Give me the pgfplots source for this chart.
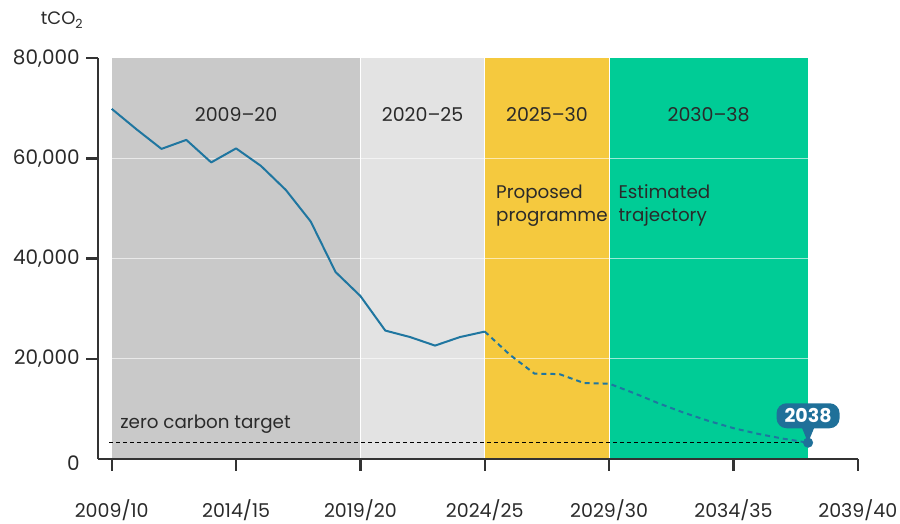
\documentclass[border=0pt]{standalone}
\usepackage{pgfplots}
\pgfplotsset{compat=1.18}
\usepackage{fontspec}
\setmainfont{Poppins}
\definecolor{reggray}{HTML}{C9C9C9}
\definecolor{reglight}{HTML}{E3E3E3}
\definecolor{regyellow}{HTML}{F5C93E}
\definecolor{reggreen}{HTML}{00CC96}
\definecolor{linec}{HTML}{1F76A0}
\definecolor{calloutc}{HTML}{1F7099}
\definecolor{axisc}{HTML}{333333}
\definecolor{labelc}{HTML}{2A2A2A}
\pgfplotstableread{
year value
2009 69900
2010 65800
2011 61900
2012 63700
2013 59200
2014 62000
2015 58500
2016 53700
2017 47400
2018 37300
2019 32500
2020 25600
2021 24300
2022 22600
2023 24300
2024 25400
}\actual
\pgfplotstableread{
year value
2024 25400
2025 20800
2026 17000
2027 16900
2028 15100
2029 15000
2030 13100
2031 11050
2032 9200
2033 7550
2034 6100
2035 4950
2036 4000
2037 3200
}\projected
\begin{document}
\fontsize{19bp}{23bp}\selectfont
\color{labelc}
\begin{tikzpicture}
\useasboundingbox (0,0) rectangle (900bp,524bp);
\begin{axis}[
  at={(98.3bp,65.3bp)}, anchor=south west,
  scale only axis, width=759.5bp, height=400.4bp,
  xmin=2008.46, xmax=2039, ymin=0, ymax=80000,
  axis lines=left, axis line style={-, line width=2.2bp, draw=axisc},
  axis on top,
  xtick={2009,2014,2019,2024,2029,2034,2039},
  xticklabels={2009/10,2014/15,2019/20,2024/25,2029/30,2034/35,2039/40},
  ytick={20000,40000,60000,80000},
  extra y ticks={0},
  extra y tick style={tick style={draw=none}, yticklabel style={yshift=-4bp}},
  tick align=outside, major tick length=12bp,
  tick style={line width=2.2bp, draw=axisc},
  scaled y ticks=false,
  /pgf/number format/1000 sep={,},
  /pgf/number format/assume math mode=true,
  ticklabel style={font=\fontsize{19bp}{23bp}\selectfont, text=labelc},
  yticklabel style={font=\fontsize{20bp}{24bp}\selectfont},
  xticklabel style={yshift=-22bp},
  clip=false,
]
\addplot[fill=reggray, draw=none] coordinates {(2009,80000)(2019,80000)} \closedcycle;
\addplot[fill=reglight, draw=none] coordinates {(2019,80000)(2024,80000)} \closedcycle;
\addplot[fill=regyellow, draw=none] coordinates {(2024,80000)(2029,80000)} \closedcycle;
\addplot[fill=reggreen, draw=none] coordinates {(2029,80000)(2037,80000)} \closedcycle;
\addplot[white, line width=1.2bp] coordinates {(2009,0)(2009,80000)};
\addplot[white, line width=1.2bp] coordinates {(2019,0)(2019,80000)};
\addplot[white, line width=1.2bp] coordinates {(2024,0)(2024,80000)};
\addplot[white, line width=1.2bp] coordinates {(2029,0)(2029,80000)};
\addplot[white, opacity=0.6, line width=1.2bp] coordinates {(2009,20000)(2037,20000)};
\addplot[white, opacity=0.6, line width=1.2bp] coordinates {(2009,40000)(2037,40000)};
\addplot[white, opacity=0.6, line width=1.2bp] coordinates {(2009,60000)(2037,60000)};
% zero carbon target
\addplot[black, line width=0.9bp, dash pattern=on 4bp off 3bp] coordinates {(2008.9,3200)(2037,3200)};
% data
\addplot[linec, line width=2bp, line join=round] table[x=year,y=value]{\actual};
\addplot[linec, line width=2bp, dash pattern=on 5bp off 4bp] table[x=year,y=value]{\projected};
% callout
\fill[calloutc] (axis cs:2036.72,6600) -- (axis cs:2037.28,6600) -- (axis cs:2037,3200) -- cycle;
\addplot[only marks, mark=*, mark size=4.8bp, calloutc, mark options={draw=calloutc, fill=calloutc}] coordinates {(2037,3200)};
\node[fill=calloutc, text=white, rounded corners=10bp, minimum width=63bp, minimum height=25bp, inner sep=0pt, font=\fontsize{19bp}{23bp}\selectfont\bfseries] at (axis cs:2037,8580) {2038};
% labels
\node[anchor=base] at (axis cs:2014,67400) {2009–20};
\node[anchor=base] at (axis cs:2021.5,67400) {2020–25};
\node[anchor=base] at (axis cs:2026.5,67400) {2025–30};
\node[anchor=base] at (axis cs:2033,67400) {2030–38};
\begin{scope}[every node/.style={font=\fontsize{18.3bp}{22bp}\selectfont}]
\node[anchor=base west, inner sep=0pt] at (axis cs:2024.45,52080) {Proposed};
\node[anchor=base west, inner sep=0pt] at (axis cs:2024.45,47400) {programme};
\node[anchor=base west, inner sep=0pt] at (axis cs:2029.37,52080) {Estimated};
\node[anchor=base west, inner sep=0pt] at (axis cs:2029.37,47400) {trajectory};
\node[anchor=base west, inner sep=0pt] at (axis cs:2009.34,6080) {zero carbon target};
\end{scope}
\end{axis}
\node[anchor=base, font=\fontsize{18bp}{21bp}\selectfont] at (62bp,499bp) {tCO\textsubscript{2}};
\end{tikzpicture}
\end{document}
